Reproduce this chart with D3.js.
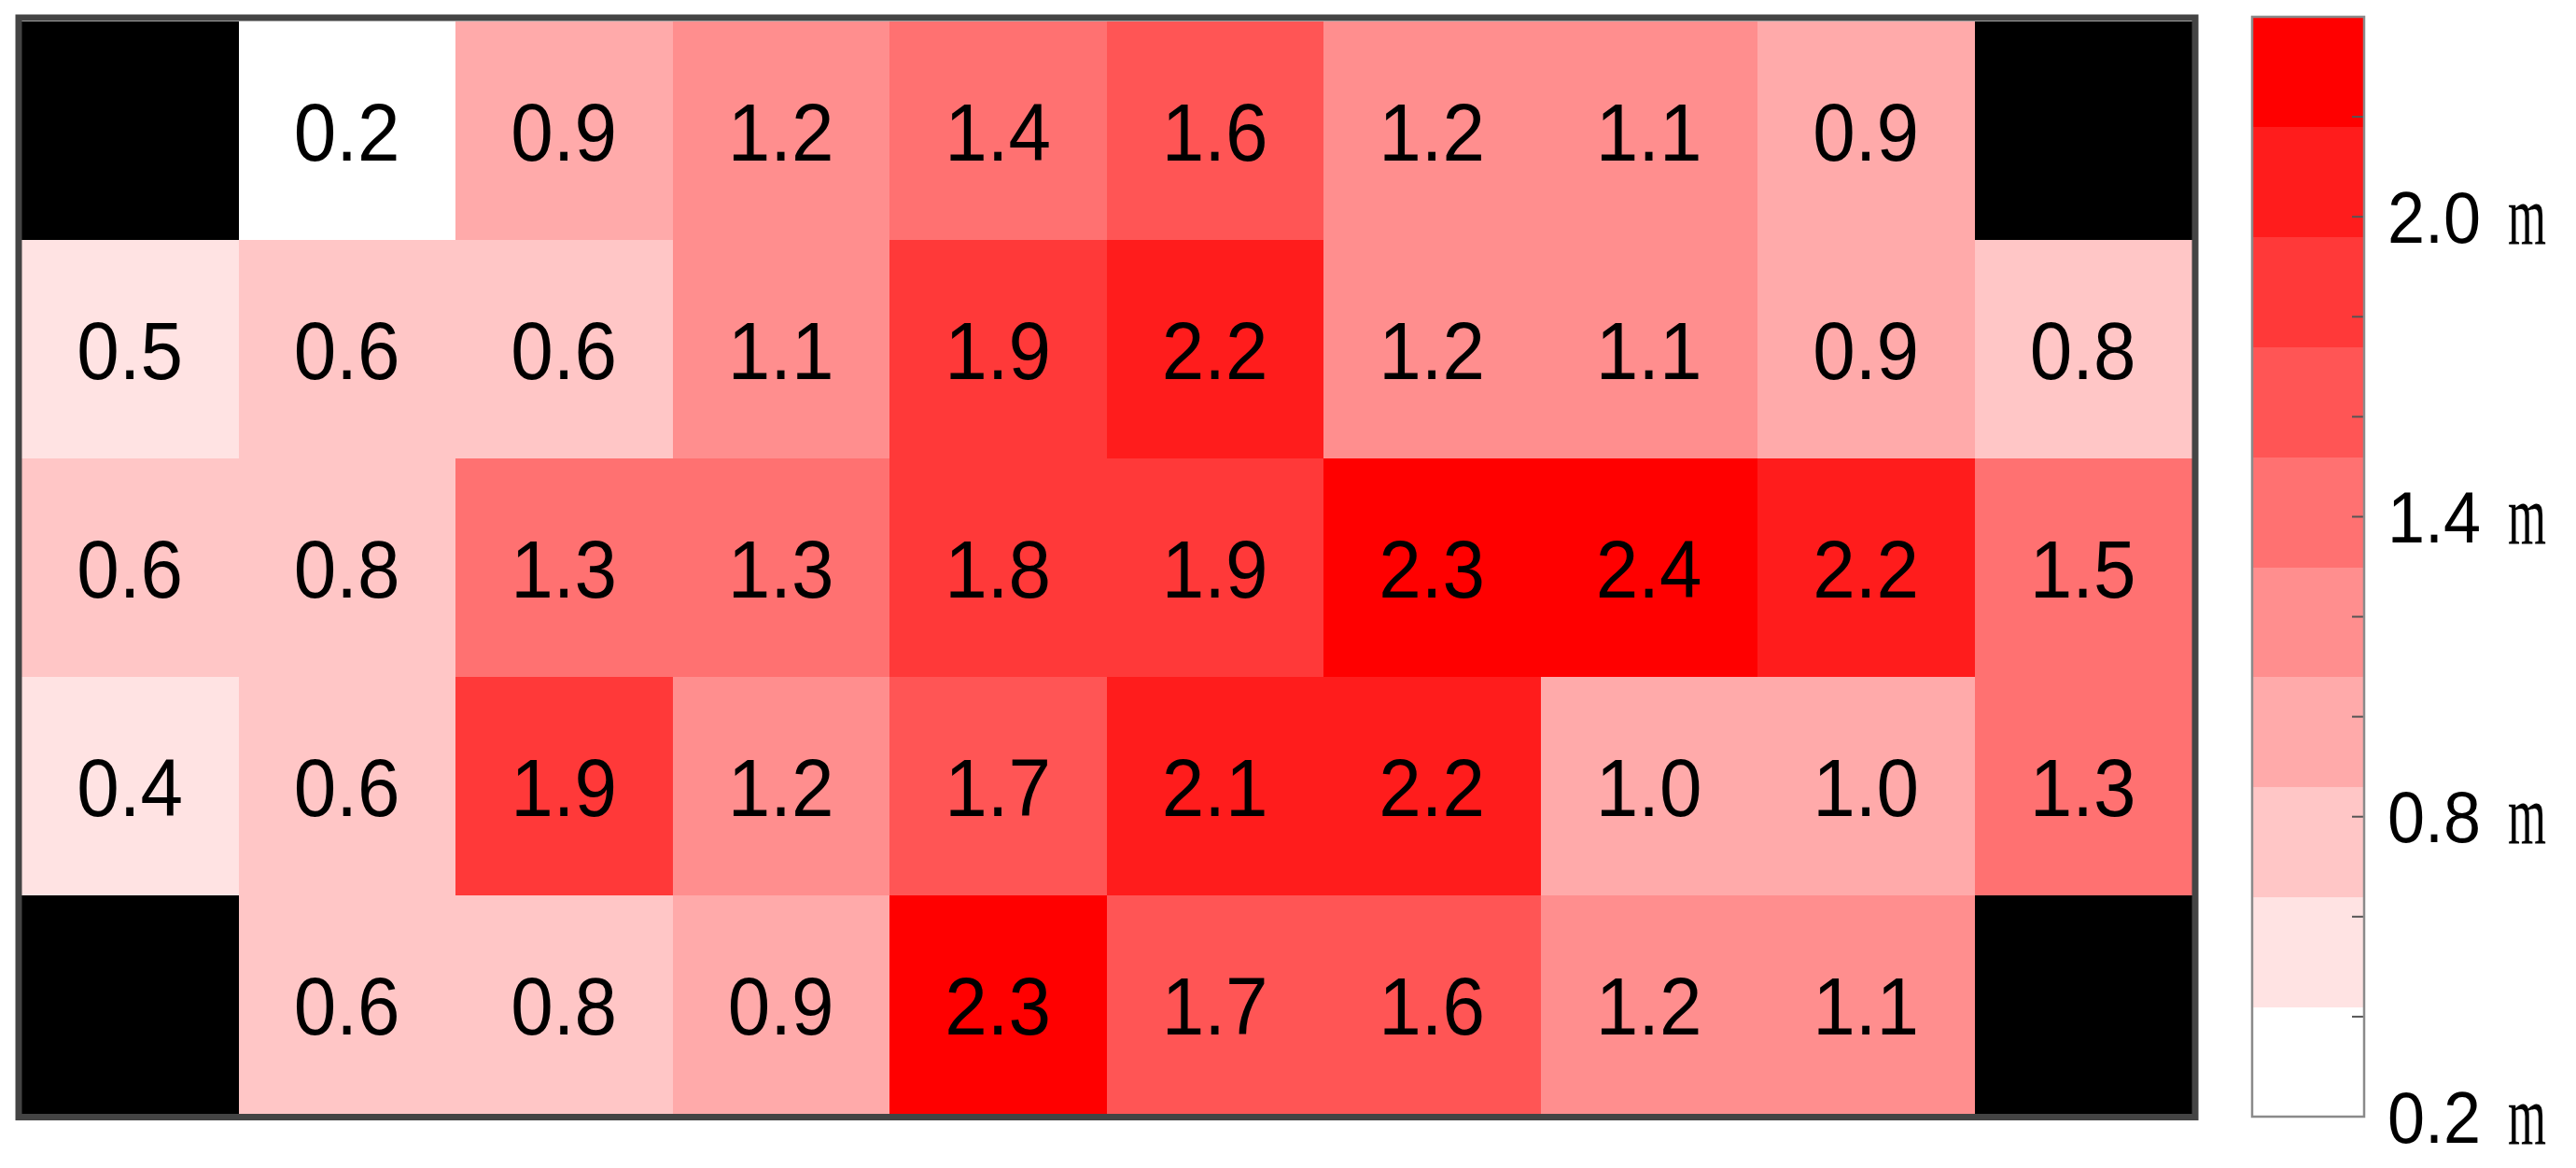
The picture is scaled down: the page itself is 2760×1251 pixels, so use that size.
<!DOCTYPE html>
<html>
<head>
<meta charset="utf-8">
<script src="https://cdn.jsdelivr.net/npm/d3@7"></script>
<style>
  html, body { margin: 0; padding: 0; background: #ffffff; }
  svg { display: block; }
</style>
</head>
<body>
<svg id="chart" width="2760" height="1251"></svg>
<script>
// ---------- data ----------
const columns = [0, 1, 2, 3, 4, 5, 6, 7, 8, 9];
const rows = [0, 1, 2, 3, 4];
const row0 = [null, 0.2, 0.9, 1.2, 1.4, 1.6, 1.2, 1.1, 0.9, null];
const row1 = [0.5, 0.6, 0.6, 1.1, 1.9, 2.2, 1.2, 1.1, 0.9, 0.8];
const row2 = [0.6, 0.8, 1.3, 1.3, 1.8, 1.9, 2.3, 2.4, 2.2, 1.5];
const row3 = [0.4, 0.6, 1.9, 1.2, 1.7, 2.1, 2.2, 1.0, 1.0, 1.3];
const row4 = [null, 0.6, 0.8, 0.9, 2.3, 1.7, 1.6, 1.2, 1.1, null];
const colourBreaks = [0.3, 0.55, 0.85, 1.05, 1.25, 1.55, 1.75, 2.0, 2.25];
const colourbarDomain = [0.2, 2.4];
const colourbarTicks = [0.4, 0.6, 0.8, 1.0, 1.2, 1.4, 1.6, 1.8, 2.0, 2.2];
const colourbarLabels = [0.2, 0.8, 1.4, 2.0];
const unitLabel = "m";

// ---------- setup ----------
const grid = [row0, row1, row2, row3, row4];
const cells = [];
grid.forEach((r, ri) => r.forEach((v, ci) => cells.push({ row: ri, col: ci, value: v })));

const nLevels = 10;
const colours = d3.range(nLevels).map(k => d3.interpolateRgb("#ffffff", "#ff0000")(k / (nLevels - 1)));
const colour = d3.scaleThreshold().domain(colourBreaks).range(colours);
const fmt = d3.format(".1f");

const svg = d3.select("#chart");

const plot = { x0: 23, x1: 2348, y0: 23, y1: 1193 };
const x = d3.scaleBand().domain(columns).range([plot.x0, plot.x1]).padding(0);
const y = d3.scaleBand().domain(rows).range([plot.y0, plot.y1]).padding(0);

// cells
svg.append("g").selectAll("rect")
  .data(cells)
  .join("rect")
  .attr("x", d => x(d.col))
  .attr("y", d => y(d.row))
  .attr("width", x.bandwidth() + 0.5)
  .attr("height", y.bandwidth() + 0.5)
  .attr("fill", d => d.value == null ? "#000000" : colour(d.value))
  .attr("shape-rendering", "crispEdges");

// labels
const fs = 88;
const squeeze = 0.93;
svg.append("g").selectAll("text")
  .data(cells.filter(d => d.value != null))
  .join("text")
  .attr("x", d => x(d.col) + x.bandwidth() / 2)
  .attr("y", d => y(d.row) + y.bandwidth() / 2 + fs * 0.358)
  .attr("text-anchor", "middle")
  .attr("font-family", "'Liberation Sans', Arial, Helvetica, sans-serif")
  .attr("font-size", fs)
  .attr("textLength", fs * 1.39 * squeeze)
  .attr("lengthAdjust", "spacingAndGlyphs")
  .attr("fill", "#000")
  .text(d => fmt(d.value));

// frame
svg.append("rect")
  .attr("x", 20)
  .attr("y", 19)
  .attr("width", 2332)
  .attr("height", 1177.5)
  .attr("fill", "none")
  .attr("stroke", "#444444")
  .attr("stroke-width", 7);

// ---------- colourbar ----------
const cb = { x0: 2413, x1: 2533, yTop: 18, yBottom: 1196 };
const cy = d3.scaleLinear().domain(colourbarDomain).range([cb.yBottom, cb.yTop]);
const step = (colourbarDomain[1] - colourbarDomain[0]) / nLevels;
const bands = d3.range(nLevels).map(k => ({
  lo: colourbarDomain[0] + k * step,
  hi: colourbarDomain[0] + (k + 1) * step,
  fill: colours[k]
}));

svg.append("g").selectAll("rect")
  .data(bands)
  .join("rect")
  .attr("x", cb.x0)
  .attr("y", d => cy(d.hi))
  .attr("width", cb.x1 - cb.x0)
  .attr("height", d => cy(d.lo) - cy(d.hi) + 0.5)
  .attr("fill", d => d.fill)
  .attr("shape-rendering", "crispEdges");

// ticks (inside, right edge)
svg.append("g").selectAll("line")
  .data(colourbarTicks)
  .join("line")
  .attr("x1", cb.x1 - 13)
  .attr("x2", cb.x1)
  .attr("y1", d => cy(d))
  .attr("y2", d => cy(d))
  .attr("stroke", "#555555")
  .attr("stroke-width", 2);

// border
svg.append("rect")
  .attr("x", cb.x0)
  .attr("y", cb.yTop)
  .attr("width", cb.x1 - cb.x0)
  .attr("height", cb.yBottom - cb.yTop)
  .attr("fill", "none")
  .attr("stroke", "#8a8a8a")
  .attr("stroke-width", 2.5);

// labels
const lfs = 77;
const lg = svg.append("g").selectAll("g")
  .data(colourbarLabels)
  .join("g");
lg.append("text")
  .attr("x", 2558)
  .attr("y", d => cy(d) + lfs * 0.358)
  .attr("font-family", "'Liberation Sans', Arial, Helvetica, sans-serif")
  .attr("font-size", lfs)
  .attr("textLength", 100)
  .attr("lengthAdjust", "spacingAndGlyphs")
  .attr("fill", "#000")
  .text(d => fmt(d));
lg.append("text")
  .attr("x", 2687)
  .attr("y", d => cy(d) + lfs * 0.358 + 2)
  .attr("font-family", "'Liberation Serif', 'DejaVu Serif', serif")
  .attr("font-size", 90)
  .attr("textLength", 41)
  .attr("lengthAdjust", "spacingAndGlyphs")
  .attr("fill", "#000")
  .text(unitLabel);
</script>
</body>
</html>
